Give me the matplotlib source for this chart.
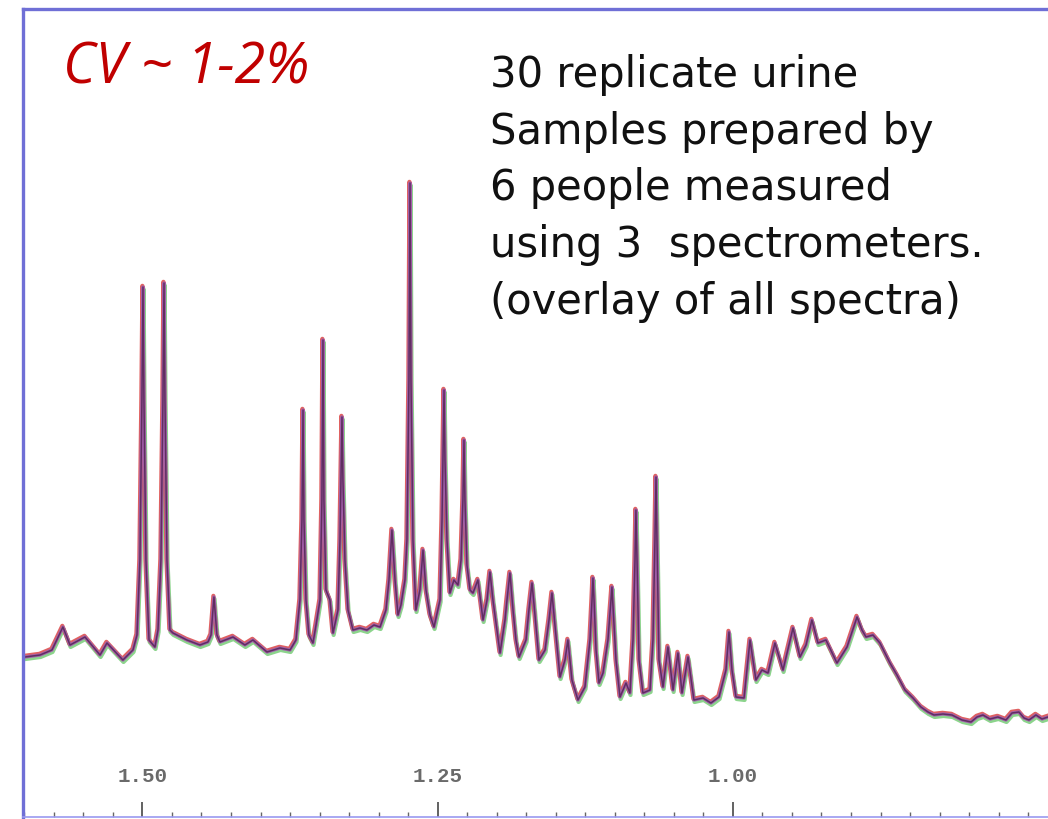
import matplotlib
matplotlib.use("Agg")
import matplotlib.pyplot as plt
import matplotlib.transforms as mtransforms
from matplotlib.ticker import FixedLocator, MultipleLocator

# chemical shift (ppm) and intensity (arbitrary units) traced from the overlay
ppm = [1.5994, 1.5867, 1.5766, 1.5673, 1.5613, 1.5486, 1.5359, 1.5300, 1.5165, 1.5080,
       1.5046, 1.5021, 1.5004, 1.4995, 1.4987, 1.4970, 1.4944, 1.4894,
       1.4868, 1.4843, 1.4826, 1.4817, 1.4809, 1.4792, 1.4767, 1.4741, 1.4623, 1.4513, 1.4445,
       1.4419, 1.4394, 1.4369, 1.4343, 1.4233, 1.4132, 1.4064, 1.3945, 1.3835, 1.3750,
       1.3700, 1.3666, 1.3649, 1.3640, 1.3632, 1.3615, 1.3590, 1.3556, 1.3530,
       1.3496, 1.3480, 1.3471, 1.3463, 1.3446, 1.3429, 1.3412, 1.3386,
       1.3344, 1.3327, 1.3319, 1.3310, 1.3302, 1.3285, 1.3259,
       1.3217, 1.3158, 1.3099, 1.3039, 1.2988,
       1.2938, 1.2912, 1.2887, 1.2861, 1.2836, 1.2811, 1.2777,
       1.2760, 1.2743, 1.2734, 1.2726, 1.2709, 1.2684,
       1.2650, 1.2624, 1.2599, 1.2565, 1.2531,
       1.2480, 1.2463, 1.2455, 1.2446, 1.2438, 1.2421, 1.2396, 1.2362, 1.2328,
       1.2302, 1.2286, 1.2277, 1.2269, 1.2252, 1.2226, 1.2201, 1.2159, 1.2116,
       1.2082, 1.2057, 1.2032, 1.1998, 1.1972,
       1.1930, 1.1913, 1.1888, 1.1862, 1.1837, 1.1811,
       1.1752, 1.1727, 1.1701, 1.1676, 1.1642, 1.1591,
       1.1557, 1.1532, 1.1507, 1.1464, 1.1422, 1.1397, 1.1363, 1.1312, 1.1253,
       1.1210, 1.1193, 1.1185, 1.1176, 1.1159, 1.1134, 1.1100,
       1.1058, 1.1032, 1.1024, 1.1016, 1.0990, 1.0956, 1.0905, 1.0872,
       1.0846, 1.0829, 1.0821, 1.0812, 1.0795, 1.0762, 1.0702,
       1.0677, 1.0660, 1.0651, 1.0643, 1.0626, 1.0592,
       1.0550, 1.0507, 1.0465, 1.0431, 1.0380, 1.0330, 1.0253, 1.0186, 1.0118,
       1.0059, 1.0033, 1.0008, 0.9974, 0.9906,
       0.9855, 0.9805, 0.9754, 0.9703, 0.9644, 0.9576, 0.9491, 0.9432, 0.9381, 0.9331,
       0.9280, 0.9212, 0.9119, 0.9034, 0.8949, 0.8907, 0.8873, 0.8814, 0.8755, 0.8670,
       0.8611, 0.8543, 0.8475, 0.8408, 0.8348, 0.8297, 0.8221, 0.8145, 0.8060, 0.7984,
       0.7933, 0.7883, 0.7823, 0.7756, 0.7688, 0.7637, 0.7578, 0.7535, 0.7493, 0.7434,
       0.7383, 0.7332]
intensity = [83, 85, 90, 113, 95, 103, 85, 97, 80, 90,
             105, 180, 340, 453, 340, 180, 100, 93,
             110, 180, 340, 457, 340, 180, 110, 107, 100, 95, 98,
             105, 143, 105, 98, 103, 95, 100, 88, 92, 90,
             100, 140, 220, 330, 220, 140, 105, 97, 115,
             140, 240, 400, 240, 150, 145, 140, 107,
             130, 200, 260, 323, 260, 180, 130,
             110, 112, 110, 115, 113,
             130, 160, 210, 160, 125, 135, 160,
             200, 360, 557, 360, 200, 130,
             150, 190, 150, 125, 113,
             140, 220, 280, 350, 280, 200, 147, 160, 155,
             180, 240, 300, 240, 175, 150, 147, 160, 120,
             140, 168, 140, 110, 87,
             120, 140, 167, 130, 100, 83,
             100, 130, 157, 125, 80, 90,
             120, 147, 115, 63, 80, 100, 60, 40, 53,
             100, 140, 162, 140, 90, 57, 67,
             100, 140, 153, 135, 80, 43, 57, 47,
             100, 180, 230, 180, 80, 47, 50,
             100, 200, 263, 200, 80, 53,
             93, 50, 87, 47, 83, 40, 42, 37, 43,
             70, 108, 70, 43, 42,
             100, 60, 70, 67, 97, 70, 112, 83, 95, 120,
             97, 100, 77, 93, 123, 110, 103, 105, 97, 77,
             65, 50, 42, 33, 28, 25, 26, 25, 20, 18,
             23, 25, 21, 23, 20, 27, 28, 22, 20, 25,
             21, 23]

major_ticks = [1.50, 1.25, 1.00]
major_labels = ["1.50", "1.25", "1.00"]

cv_text = "CV ~ 1-2%"
note_text = ("30 replicate urine\nSamples prepared by\n6 people measured\n"
             "using 3  spectrometers.\n(overlay of all spectra)")

W, H = 1048, 819
fig = plt.figure(figsize=(W / 100, H / 100), dpi=100)
fig.patch.set_facecolor("white")
ax = fig.add_axes([23 / W, 2 / H, (W - 23) / W, (817 - 9) / H])
ax.set_xlim(1.6011, 0.7332)
ax.set_ylim(-77, 731)

off_g = mtransforms.offset_copy(ax.transData, fig=fig, x=0.6, y=-2.0, units="dots")
off_r = mtransforms.offset_copy(ax.transData, fig=fig, x=-0.6, y=1.2, units="dots")
ax.plot(ppm, intensity, color="#5cc25c", lw=3.0, alpha=0.7, transform=off_g, solid_joinstyle="round")
ax.plot(ppm, intensity, color="#d83a3a", lw=3.0, alpha=0.8, transform=off_r, solid_joinstyle="round")
ax.plot(ppm, intensity, color="#a060b0", lw=2.4, alpha=0.95, solid_joinstyle="round")
ax.plot(ppm, intensity, color="#4a1e48", lw=1.1, alpha=0.75, solid_joinstyle="round")

for side in ["left", "top"]:
    ax.spines[side].set_color("#6f6fd6")
    ax.spines[side].set_linewidth(2.4)
ax.spines["right"].set_visible(False)
ax.spines["bottom"].set_color("#9a9af0")
ax.spines["bottom"].set_linewidth(1.2)

ax.yaxis.set_visible(False)
ax.xaxis.set_major_locator(FixedLocator(major_ticks))
ax.set_xticklabels(major_labels, family="Liberation Mono", fontsize=15,
                   fontweight="bold", color="#6a6a6a")
ax.xaxis.set_minor_locator(MultipleLocator(0.025))
ax.tick_params(axis="x", which="major", direction="in", length=10.5, width=1.3,
               color="#555555", pad=-36)
ax.tick_params(axis="x", which="minor", direction="in", length=3.5, width=1.0,
               color="#666666")

fig.text(63 / W, 1 - 83 / H, cv_text, color="#c00000", fontsize=40, style="italic",
         family="Open Sans", va="baseline", ha="left")
fig.text(490 / W, 1 - 54 / H, note_text, color="#111111", fontsize=30,
         family="DejaVu Sans", va="top", ha="left", linespacing=1.445)

fig.savefig("out.png", dpi=100, facecolor="white")
